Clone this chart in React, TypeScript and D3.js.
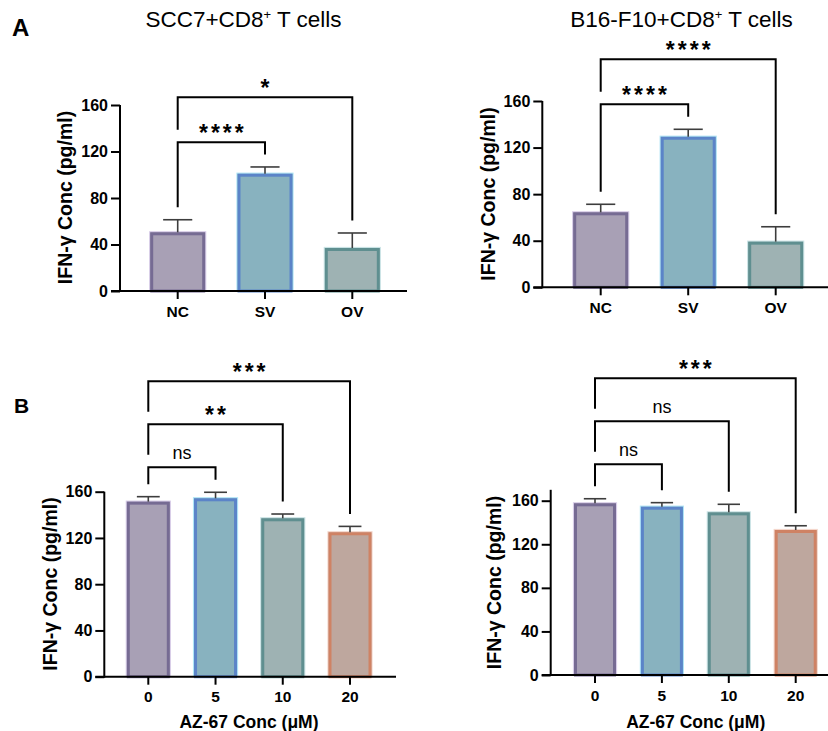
import React, { useEffect, useRef } from 'react';
import * as d3 from 'd3';

// values
const groupsA = ['NC', 'SV', 'OV'];
const scc7Mean = [50.5, 100.9, 37.0];
const scc7Err = [10.8, 5.8, 12.9];
const b16Mean = [64.4, 129.3, 39.2];
const b16Err = [6.9, 6.4, 12.8];

const dosesB = ['0', '5', '10', '20'];
const azLeftMean = [151.4, 154.3, 137.0, 124.9];
const azLeftErr = [4.3, 5.2, 3.7, 5.1];
const azRightMean = [157.6, 154.5, 149.3, 133.1];
const azRightErr = [4.2, 3.7, 7.4, 3.9];

const yTicks = [0, 40, 80, 120, 160];

const scc7Sig = [
  { from: 'NC', to: 'SV', label: '****' },
  { from: 'NC', to: 'OV', label: '*' },
];
const b16Sig = [
  { from: 'NC', to: 'SV', label: '****' },
  { from: 'NC', to: 'OV', label: '****' },
];
const azLeftSig = [
  { from: '0', to: '5', label: 'ns' },
  { from: '0', to: '10', label: '**' },
  { from: '0', to: '20', label: '***' },
];
const azRightSig = [
  { from: '0', to: '5', label: 'ns' },
  { from: '0', to: '10', label: 'ns' },
  { from: '0', to: '20', label: '***' },
];

const fills = ['#a8a0b5', '#88b2bf', '#9eb2b3', '#bea79e'];
const strokes = ['#766b93', '#5b84c8', '#5f8f90', '#cf8264'];

const FONT = "'Liberation Sans', Arial, Helvetica, sans-serif";

const panels = [
  {
    cats: groupsA, mean: scc7Mean, err: scc7Err, sig: scc7Sig,
    axisX: 120, c0: 177.7, c1: 352.3, xEnd: 407,
    y0: 291, y160: 105, top: 160, barW: 56,
    br0: 142.3, brStep: 45,
    yLabel: { x: 71.7, cy: 197.5 }, tickBase: 317,
    title: { pre: 'SCC7+CD8', post: ' T cells', x: 243.5, y: 27 },
  },
  {
    cats: groupsA, mean: b16Mean, err: b16Err, sig: b16Sig,
    axisX: 542.3, c0: 600.7, c1: 775.7, xEnd: 830,
    y0: 287.3, y160: 101, top: 160, barW: 56,
    br0: 104.3, brStep: 45,
    yLabel: { x: 495, cy: 194 }, tickBase: 313.3,
    title: { pre: 'B16-F10+CD8', post: ' T cells', x: 681.5, y: 27 },
  },
  {
    cats: dosesB, mean: azLeftMean, err: azLeftErr, sig: azLeftSig,
    axisX: 104.3, c0: 148.3, c1: 350, xEnd: 396,
    y0: 676.7, y160: 491.7, top: 160, barW: 44,
    br0: 467.3, brStep: 43,
    yLabel: { x: 56.7, cy: 584 }, tickBase: 702,
    xTitle: { x: 249, y: 728 },
  },
  {
    cats: dosesB, mean: azRightMean, err: azRightErr, sig: azRightSig,
    axisX: 550.7, c0: 595, c1: 795.7, xEnd: 830,
    y0: 675, y160: 500.7, top: 170, barW: 43,
    br0: 464.3, brStep: 43,
    yLabel: { x: 501.3, cy: 582.5 }, tickBase: 700.5,
    xTitle: { x: 695.7, y: 728 },
  },
];

const App = () => {
  const svgRef = useRef(null);

  useEffect(() => {
    const svg = d3.select(svgRef.current);
    svg.selectAll('*').remove();

    // panel letters
    svg.append('text').attr('x', 12).attr('y', 36)
      .style('font-size', '24px').style('font-weight', 'bold').text('A');
    svg.append('text').attr('x', 14).attr('y', 413)
      .style('font-size', '21px').style('font-weight', 'bold').text('B');

    panels.forEach(p => {
      const g = svg.append('g');

      const x = d3.scalePoint().domain(p.cats).range([p.c0, p.c1]);
      const y = d3.scaleLinear().domain([0, 160]).range([p.y0, p.y160]);

      // bars
      p.cats.forEach((c, i) => {
        const cx = x(c);
        const top = y(p.mean[i]);
        const h = p.y0 - top;
        g.append('rect')
          .attr('x', cx - p.barW / 2).attr('y', top - 0.5)
          .attr('width', p.barW).attr('height', h + 0.5)
          .attr('fill', fills[i])
          .attr('stroke', d3.color(fills[i]).brighter(0.7).formatHex())
          .attr('stroke-width', 1.2);
        g.append('rect')
          .attr('x', cx - p.barW / 2 + 2).attr('y', top + 1.5)
          .attr('width', p.barW - 4).attr('height', h - 1.5)
          .attr('fill', fills[i])
          .attr('stroke', strokes[i])
          .attr('stroke-width', 3);

        // error bar (upper only)
        const et = y(p.mean[i] + p.err[i]);
        const cap = p.barW * 0.52;
        g.append('line').attr('x1', cx).attr('x2', cx).attr('y1', top).attr('y2', et)
          .attr('stroke', '#3d3d3d').attr('stroke-width', 1.6);
        g.append('line').attr('x1', cx - cap / 2).attr('x2', cx + cap / 2).attr('y1', et).attr('y2', et)
          .attr('stroke', '#3d3d3d').attr('stroke-width', 1.6);
      });

      // y axis
      const yAxis = g.append('g').attr('transform', `translate(${p.axisX},0)`)
        .call(d3.axisLeft(y).tickValues(yTicks).tickSize(9).tickPadding(3));
      yAxis.select('.domain').remove();
      yAxis.selectAll('.tick line').attr('stroke', '#000').attr('stroke-width', 2);
      yAxis.selectAll('.tick text')
        .attr('fill', '#000')
        .style('font-family', FONT).style('font-size', '16px').style('font-weight', 'bold');
      g.append('line')
        .attr('x1', p.axisX).attr('x2', p.axisX)
        .attr('y1', y(p.top)).attr('y2', p.y0 + 1)
        .attr('stroke', '#000').attr('stroke-width', 2);

      // x axis
      g.append('line')
        .attr('x1', p.axisX - 9).attr('x2', p.xEnd)
        .attr('y1', p.y0).attr('y2', p.y0)
        .attr('stroke', '#000').attr('stroke-width', 2);
      p.cats.forEach(c => {
        g.append('line').attr('x1', x(c)).attr('x2', x(c))
          .attr('y1', p.y0).attr('y2', p.y0 + 8)
          .attr('stroke', '#000').attr('stroke-width', 2);
        g.append('text').attr('x', x(c)).attr('y', p.tickBase)
          .attr('text-anchor', 'middle')
          .style('font-size', '15.5px').style('font-weight', 'bold')
          .text(c);
      });

      // y label
      g.append('text')
        .attr('transform', `translate(${p.yLabel.x},${p.yLabel.cy}) rotate(-90)`)
        .attr('text-anchor', 'middle')
        .style('font-size', '19.5px').style('font-weight', 'bold')
        .text('IFN-γ Conc (pg/ml)');

      if (p.title) {
        const t = g.append('text').attr('x', p.title.x).attr('y', p.title.y)
          .attr('text-anchor', 'middle').style('font-size', '22.5px');
        t.append('tspan').text(p.title.pre);
        t.append('tspan').attr('dy', -8).style('font-size', '13px').text('+');
        t.append('tspan').attr('dy', 8).text(p.title.post);
      }
      if (p.xTitle) {
        g.append('text').attr('x', p.xTitle.x).attr('y', p.xTitle.y)
          .attr('text-anchor', 'middle')
          .style('font-size', '17.5px').style('font-weight', 'bold')
          .text('AZ-67 Conc (μM)');
      }

      // significance brackets
      const placed = [];
      p.sig.forEach((s, k) => {
        const by = p.br0 - k * p.brStep;
        const ia = p.cats.indexOf(s.from);
        const ib = p.cats.indexOf(s.to);
        const legEnd = idx => {
          let ob = y(p.mean[idx] + p.err[idx]);
          placed.forEach(b => {
            if (idx >= b.ia && idx <= b.ib) ob = Math.min(ob, b.y);
          });
          return ob - 12.5;
        };
        const xa = x(s.from);
        const xb = x(s.to);
        g.append('path')
          .attr('d', `M${xa},${legEnd(ia)}V${by}H${xb}V${legEnd(ib)}`)
          .attr('fill', 'none').attr('stroke', '#000').attr('stroke-width', 2);
        const isNs = s.label === 'ns';
        g.append('text')
          .attr('x', (xa + xb) / 2 + (isNs ? 0 : 1.5))
          .attr('y', isNs ? by - 8 : by - 1)
          .attr('text-anchor', 'middle')
          .style('font-size', isNs ? '18px' : '23px')
          .style('font-weight', isNs ? 'normal' : 'bold')
          .style('letter-spacing', isNs ? '0px' : '3px')
          .text(s.label);
        placed.push({ ia, ib, y: by });
      });
    });
  }, []);

  return (
    <svg
      ref={svgRef}
      width={828}
      height={731}
      style={{ position: 'absolute', left: 0, top: 0, fontFamily: FONT, background: '#fff' }}
    />
  );
};

export default App;
